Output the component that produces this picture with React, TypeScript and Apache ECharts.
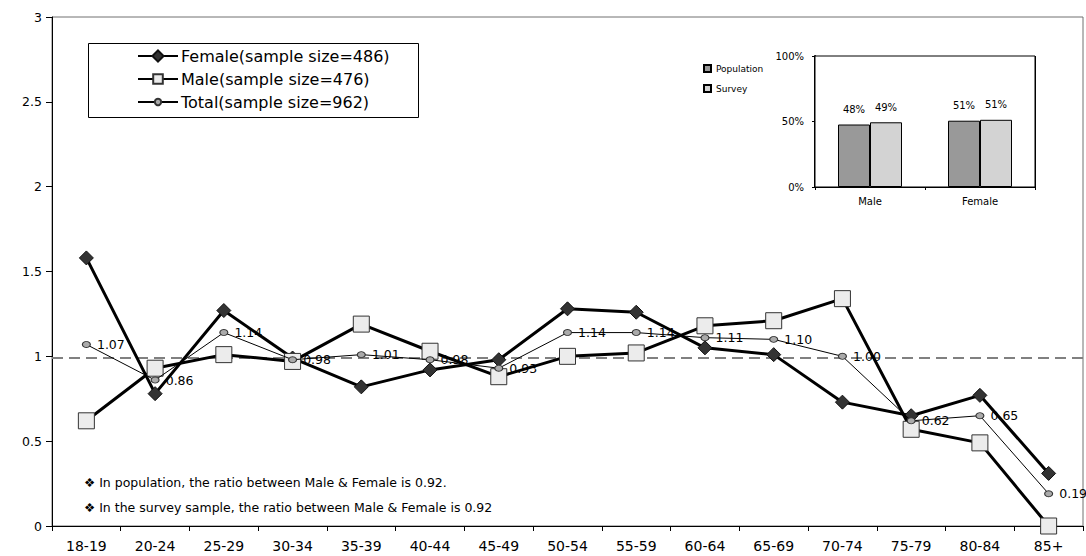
import React, { useEffect, useRef } from "react";
import * as echarts from "echarts";

const categories = ["18-19", "20-24", "25-29", "30-34", "35-39", "40-44", "45-49", "50-54", "55-59", "60-64", "65-69", "70-74", "75-79", "80-84", "85+"];
const female = [1.58, 0.78, 1.27, 0.99, 0.82, 0.92, 0.98, 1.28, 1.26, 1.05, 1.01, 0.73, 0.65, 0.77, 0.31];
const male = [0.62, 0.93, 1.01, 0.97, 1.19, 1.03, 0.88, 1.0, 1.02, 1.18, 1.21, 1.34, 0.57, 0.49, 0.0];
const total = [1.07, 0.86, 1.14, 0.98, 1.01, 0.98, 0.93, 1.14, 1.14, 1.11, 1.1, 1.0, 0.62, 0.65, 0.19];
const yTicks = [0, 0.5, 1, 1.5, 2, 2.5, 3];
const seriesNames = ["Female(sample size=486)", "Male(sample size=476)", "Total(sample size=962)"];

const insetCategories = ["Male", "Female"];
const population = [47.7, 50.6];
const survey = [49.4, 51.3];
const insetNames = ["Population", "Survey"];

const notes = [
  "\u2756 In population, the ratio between Male & Female is 0.92.",
  "\u2756 In the survey sample, the ratio between Male & Female is 0.92",
];

const FONT = "'DejaVu Sans', 'Liberation Sans', Arial, sans-serif";

export default function App() {
  const ref = useRef<HTMLDivElement>(null);
  useEffect(() => {
    const chart = echarts.init(ref.current!, undefined, { renderer: "svg" });
    const legendRow = (name: string, top: number, itemHeight: number) => ({
      data: [name],
      orient: "vertical",
      left: 137,
      top,
      padding: 0,
      itemWidth: 40,
      itemHeight,
      textStyle: { fontSize: 16, color: "#000", fontFamily: FONT, padding: [0, 0, 0, -2] },
    });
    const option: any = {
      animation: false,
      backgroundColor: "#fff",
      textStyle: { fontFamily: FONT, color: "#000" },
      grid: [
        { left: 52, right: 3, top: 17, bottom: 30, show: true, borderColor: "#707070", borderWidth: 1, backgroundColor: "transparent" },
        { left: 815, top: 56, width: 220, height: 131, show: true, borderColor: "#000", borderWidth: 1, backgroundColor: "#fff", z: 5 },
      ],
      legend: [
        legendRow(seriesNames[0], 48, 14),
        legendRow(seriesNames[1], 71, 12),
        legendRow(seriesNames[2], 94, 8),
        {
          data: insetNames,
          orient: "vertical",
          left: 703,
          top: 64,
          padding: 0,
          itemGap: 11,
          itemWidth: 7,
          itemHeight: 7,
          icon: "rect",
          textStyle: { fontSize: 9, color: "#000", fontFamily: FONT },
        },
      ],
      xAxis: [
        {
          type: "category",
          gridIndex: 0,
          data: categories,
          boundaryGap: true,
          axisLine: { lineStyle: { color: "#000", width: 1 } },
          axisTick: { show: true, length: 5, lineStyle: { color: "#000" } },
          axisLabel: { fontSize: 14, color: "#000", margin: 13, fontFamily: FONT },
          splitLine: { show: false },
        },
        {
          type: "category",
          gridIndex: 1,
          data: insetCategories,
          boundaryGap: true,
          axisLine: { lineStyle: { color: "#000", width: 2 } },
          axisTick: { show: true, length: 3, lineStyle: { color: "#000" } },
          axisLabel: { fontSize: 10, color: "#000", margin: 9, fontFamily: FONT },
          splitLine: { show: true, lineStyle: { color: "#000", width: 1 } },
        },
      ],
      yAxis: [
        {
          type: "value",
          gridIndex: 0,
          min: yTicks[0],
          max: yTicks[yTicks.length - 1],
          interval: 0.5,
          axisLine: { show: true, lineStyle: { color: "#000", width: 1 } },
          axisTick: { show: true, length: 6, lineStyle: { color: "#000" } },
          axisLabel: { fontSize: 12.5, color: "#000", margin: 10, fontFamily: FONT },
          splitLine: { show: false },
        },
        {
          type: "value",
          gridIndex: 1,
          min: 0,
          max: 100,
          interval: 50,
          axisLine: { show: true, lineStyle: { color: "#000", width: 2 } },
          axisTick: { show: true, length: 3, lineStyle: { color: "#000" } },
          axisLabel: { fontSize: 10, color: "#000", margin: 11, formatter: "{value}%", fontFamily: FONT },
          splitLine: { show: false },
        },
      ],
      series: [
        {
          name: seriesNames[0],
          type: "line",
          data: female,
          xAxisIndex: 0,
          yAxisIndex: 0,
          symbol: "diamond",
          symbolSize: 14,
          lineStyle: { color: "#000", width: 3 },
          itemStyle: { color: "#333", borderColor: "#111", borderWidth: 1 },
          z: 2,
        },
        {
          name: seriesNames[1],
          type: "line",
          data: male,
          xAxisIndex: 0,
          yAxisIndex: 0,
          symbol: "rect",
          symbolSize: 16,
          lineStyle: { color: "#000", width: 3 },
          itemStyle: { color: "#ececec", borderColor: "#333", borderWidth: 1 },
          z: 3,
        },
        {
          name: seriesNames[2],
          type: "line",
          data: total,
          xAxisIndex: 0,
          yAxisIndex: 0,
          symbol: "circle",
          symbolSize: [8, 6],
          lineStyle: { color: "#000", width: 1 },
          itemStyle: { color: "#aaa", borderColor: "#333", borderWidth: 1 },
          label: {
            show: true,
            position: "right",
            distance: 6,
            fontSize: 12.5,
            color: "#000",
            fontFamily: FONT,
            formatter: (p: any) => Number(p.value).toFixed(2),
          },
          markLine: {
            silent: true,
            symbol: "none",
            label: { show: false },
            lineStyle: { color: "#808080", width: 2, type: [11, 6] },
            data: [{ yAxis: 0.99 }],
            z: 1,
          },
          z: 4,
        },
        {
          name: insetNames[0],
          type: "bar",
          data: population,
          xAxisIndex: 1,
          yAxisIndex: 1,
          barWidth: 32,
          barGap: "0%",
          itemStyle: { color: "#999999", borderColor: "#000", borderWidth: 1 },
          label: { show: true, position: "top", distance: 10, fontSize: 10, color: "#000", fontFamily: FONT, formatter: (p: any) => Math.round(p.value) + "%" },
          z: 6,
        },
        {
          name: insetNames[1],
          type: "bar",
          data: survey,
          xAxisIndex: 1,
          yAxisIndex: 1,
          barWidth: 32,
          barGap: "0%",
          itemStyle: { color: "#d3d3d3", borderColor: "#000", borderWidth: 1 },
          label: { show: true, position: "top", distance: 10, fontSize: 10, color: "#000", fontFamily: FONT, formatter: (p: any) => Math.round(p.value) + "%" },
          z: 6,
        },
      ],
      graphic: [
        {
          type: "rect",
          left: 88,
          top: 43,
          shape: { width: 330, height: 74 },
          style: { fill: "#fff", stroke: "#000", lineWidth: 1 },
          z: -1,
        },
        ...notes.map((t, i) => ({
          type: "text",
          left: 84,
          top: 476 + i * 25,
          style: { text: t, fontSize: 12.5, fill: "#000", fontFamily: FONT },
          z: 10,
        })),
      ],
    };
    chart.setOption(option);
    return () => chart.dispose();
  }, []);
  return <div ref={ref} style={{ position: "absolute", left: 0, top: 0, width: 1086, height: 556 }} />;
}
